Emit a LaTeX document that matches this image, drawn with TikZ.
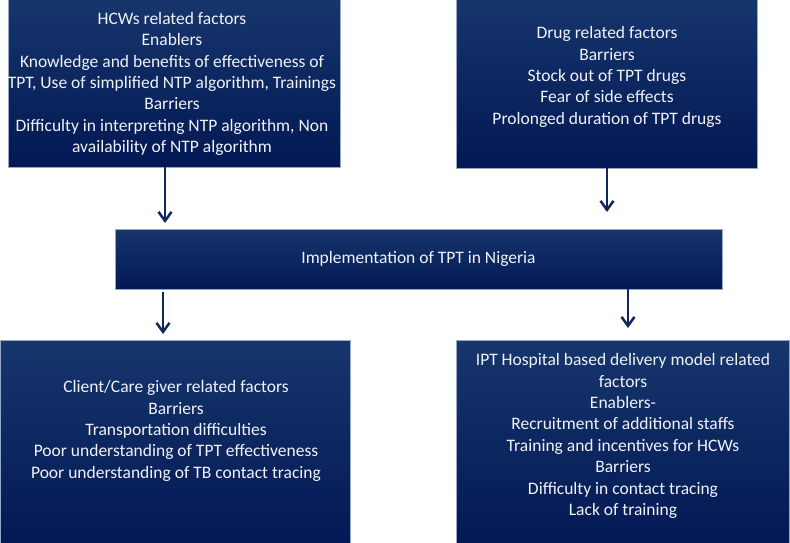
\documentclass[tikz,border=0pt]{standalone}
\usepackage{fontspec}
\setmainfont{Carlito}
\usetikzlibrary{arrows.meta}
\definecolor{boxtop}{RGB}{22,54,108}
\definecolor{boxbot}{RGB}{3,24,84}
\definecolor{boxline}{RGB}{150,168,200}
\definecolor{arrowc}{RGB}{16,38,92}
\definecolor{txtc}{RGB}{240,242,246}
\tikzset{
  box/.style={rectangle, draw=boxline, line width=0.7pt, top color=boxtop, bottom color=boxbot, inner sep=0pt, outer sep=0pt},
  txt/.style={text=txtc, align=center, font=\fontsize{17.5}{21.4}\selectfont, inner sep=0pt},
  arr/.style={draw=arrowc, line width=2.5pt, -{Straight Barb[length=9pt,width=13pt,line width=2.5pt]}}
}
\begin{document}
\begin{tikzpicture}[x=1pt,y=-1pt]
\useasboundingbox (0,0) rectangle (790,543);
% boxes
\node[box, minimum width=332pt, minimum height=170pt] (A) at (174,82) {};
\node[box, minimum width=301pt, minimum height=170pt] (B) at (606.5,83) {};
\node[box, minimum width=607pt, minimum height=60pt] (C) at (418.5,259) {};
\node[box, minimum width=350pt, minimum height=206pt] (D) at (175,443) {};
\node[box, minimum width=333pt, minimum height=206pt] (E) at (622.5,443) {};
% texts
\node[txt] (tA) at (172,84) {HCWs related factors\\Enablers\\Knowledge and benefits of effectiveness of\\TPT, Use of simplified NTP algorithm, Trainings\\Barriers\\Difficulty in interpreting NTP algorithm, Non\\availability of NTP algorithm};
\node[txt] (tB) at (607,77) {Drug related factors\\Barriers\\Stock out of TPT drugs\\Fear of side effects\\Prolonged duration of TPT drugs};
\node[txt] (tC) at (C.center) {Implementation of TPT in Nigeria};
\node[txt] (tD) at (176,431) {Client/Care giver related factors\\Barriers\\Transportation difficulties\\Poor understanding of TPT effectiveness\\Poor understanding of TB contact tracing};
\node[txt] (tE) at (623,436) {IPT Hospital based delivery model related\\factors\\Enablers-\\Recruitment of additional staffs\\Training and incentives for HCWs\\Barriers\\Difficulty in contact tracing\\Lack of training};
% arrows
\coordinate (a1) at (165,223);
\coordinate (a2) at (607,212);
\coordinate (a3s) at (163,292);
\coordinate (a3) at (163,334);
\coordinate (a4) at (628,328);
\draw[arr] (A.south -| a1) -- (a1);
\draw[arr] (B.south -| a2) -- (a2);
\draw[arr] (a3s) -- (a3);
\draw[arr] (C.south -| a4) -- (a4);
\end{tikzpicture}
\end{document}
